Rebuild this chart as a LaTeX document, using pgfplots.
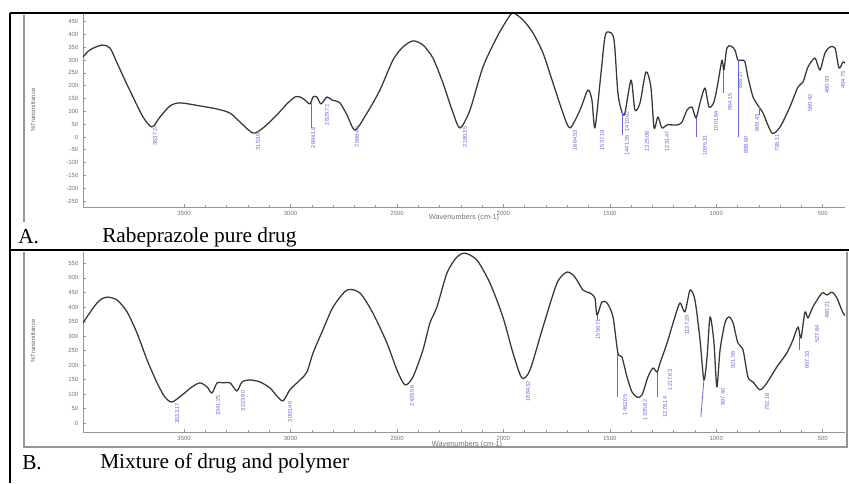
\documentclass[border=0pt]{standalone}
\usepackage{fontspec}
\setmainfont{Liberation Serif}
\newfontfamily\axfont{Liberation Sans}
\usepackage{pgfplots}
\pgfplotsset{compat=1.18}
\definecolor{spec}{RGB}{55,55,55}
\definecolor{peak}{RGB}{100,100,215}
\definecolor{frame}{RGB}{150,150,150}
\pgfplotsset{
  ftir/.style={
    scale only axis, width=571.5pt, anchor=south west,
    x dir=reverse, xmin=395, xmax=3975,
    axis x line*=bottom, axis y line*=left,
    axis line style={draw=frame, line width=0.6pt},
    xtick={500,1000,...,3500},
    minor x tick num=4,
    tick style={draw=frame, line width=0.4pt},
    major tick length=2.5pt, minor tick length=1.5pt,
    ticklabel style={font=\axfont\fontsize{4.5}{5}\selectfont, text=black!55},
    /pgf/number format/assume math mode=true,
    /pgf/number format/1000 sep={},
  },
}
\tikzset{
  pk/.style={rotate=90, font=\axfont\fontsize{4.2}{4.2}\selectfont, text=peak, inner sep=0pt},
  mk/.style={draw=peak, line width=0.6pt},
  curve/.style={spec, line width=0.95pt, line join=round, smooth, tension=0.45},
}
\begin{document}
\begin{tikzpicture}
\begin{scope}[x=0.75pt,y=-0.75pt]
  \useasboundingbox (0,0) rectangle (849,483);
  % table borders
  \draw[line width=1.5pt] (10,13) -- (849,13);
  \draw[line width=1.5pt] (10,250) -- (849,250);
  \draw[line width=1.2pt] (10,13) -- (10,483);
  % gray frames of the two spectra
  \draw[frame, line width=1pt] (24,15) -- (24,222);
  \draw[frame, line width=1pt] (24,252) -- (24,447) -- (847,447) -- (847,252);
  % axis titles
  \node[rotate=90, font=\axfont\fontsize{4.5}{5}\selectfont, text=black!60] at (33,110) {\%Transmittance};
  \node[rotate=90, font=\axfont\fontsize{4.5}{5}\selectfont, text=black!60] at (33,341) {\%Transmittance};
  \node[font=\axfont\fontsize{5.5}{6}\selectfont, text=black!55] at (464,218) {Wavenumbers (cm-1)};
  \node[font=\axfont\fontsize{5.5}{6}\selectfont, text=black!55] at (467,445) {Wavenumbers (cm-1)};
  % captions
  \node[anchor=west, font=\fontsize{16}{18}\selectfont, inner sep=0pt] at (18,237) {A.};
  \node[anchor=west, font=\fontsize{16}{18}\selectfont, inner sep=0pt] at (102,237) {Rabeprazole pure drug};
  \node[anchor=west, font=\fontsize{16}{18}\selectfont, inner sep=0pt] at (22,463) {B.};
  \node[anchor=west, font=\fontsize{16}{18}\selectfont, inner sep=0pt] at (100,463) {Mixture of drug and polymer};
\end{scope}

% ---------- A: Rabeprazole pure drug ----------
\begin{axis}[ftir, at={(62.25pt,-155.25pt)}, height=144.75pt,
  ymin=-273.6, ymax=480, ytick={-250,-200,...,450}]
\addplot[curve] coordinates {
(3975,312) (3942,340) (3886,359) (3848,347) (3815,289) (3778,222) (3740,156)
(3693,78) (3651,39) (3613,78) (3566,121) (3519,133) (3425,121) (3345,109)
(3284,93) (3237,58) (3176,15) (3129,35) (3064,86) (3017,129) (2979,156)
(2955,156) (2932,144) (2909,129) (2894,156) (2876,156) (2857,129) (2829,156)
(2805,144) (2768,133) (2735,86) (2697,27) (2641,93) (2580,183) (2519,300)
(2472,351) (2425,375) (2378,359) (2331,308) (2284,211) (2241,105) (2204,35)
(2157,105) (2096,273) (2030,390) (1983,457) (1955,484) (1908,457) (1861,406)
(1814,328) (1767,211) (1720,93) (1687,35) (1640,105) (1603,183) (1584,144)
(1570,35) (1546,211) (1523,390) (1504,410) (1480,379) (1462,172) (1443,97)
(1429,93) (1400,222) (1382,105) (1358,133) (1330,254) (1307,195) (1292,35)
(1274,78) (1255,35) (1231,47) (1184,47) (1161,58) (1137,105) (1114,117)
(1095,74) (1076,133) (1053,191) (1034,117) (1011,136) (992,211) (973,300)
(964,261) (950,347) (931,355) (912,339) (898,300) (879,300) (865,293)
(851,234) (827,156) (799,117) (780,93) (738,15) (700,39) (654,117)
(616,195) (592,215) (569,273) (536,308) (513,261) (489,328) (466,351)
(442,347) (423,269) (404,293) (386,281)
};
\draw[mk] (axis cs:2904,132) -- (axis cs:2904,35);
\draw[mk] (axis cs:1443,97) -- (axis cs:1443,7);
\draw[mk] (axis cs:1095,74) -- (axis cs:1095,0);
\draw[mk] (axis cs:964,261) -- (axis cs:964,171);
\draw[mk] (axis cs:898,300) -- (axis cs:898,0);
\draw[mk] (axis cs:799,117) -- (axis cs:799,86);
\node[pk] at (axis cs:3637,7) {3637.24};
\node[pk] at (axis cs:3153,-12) {3153.61};
\node[pk] at (axis cs:2894,-4) {2894.18};
\node[pk] at (axis cs:2829,86) {2829.72};
\node[pk] at (axis cs:2688,0) {2688.40};
\node[pk] at (axis cs:2180,0) {2180.35};
\node[pk] at (axis cs:1664,-12) {1664.53};
\node[pk] at (axis cs:1537,-12) {1537.19};
\node[pk] at (axis cs:1419,62) {1410.62};
\node[pk] at (axis cs:1419,-32) {1441.26};
\node[pk] at (axis cs:1325,-16) {1325.08};
\node[pk] at (axis cs:1231,-16) {1231.47};
\node[pk] at (axis cs:1053,-32) {1095.31};
\node[pk] at (axis cs:1001,62) {1001.84};
\node[pk] at (axis cs:935,136) {964.15};
\node[pk] at (axis cs:888,222) {888.27};
\node[pk] at (axis cs:860,-32) {898.60};
\node[pk] at (axis cs:809,54) {809.43};
\node[pk] at (axis cs:715,-24) {738.11};
\node[pk] at (axis cs:560,132) {560.42};
\node[pk] at (axis cs:480,203) {480.93};
\node[pk] at (axis cs:405,222) {404.75};
\end{axis}

% ---------- B: Mixture of drug and polymer ----------
\begin{axis}[ftir, at={(62.25pt,-324pt)}, height=135pt,
  ymin=-30, ymax=589, ytick={0,50,...,550}]
\addplot[curve] coordinates {
(3975,345) (3928,396) (3895,424) (3862,434) (3815,424) (3768,383) (3721,310)
(3674,218) (3627,139) (3590,90) (3557,73) (3510,97) (3463,125) (3425,139)
(3392,125) (3369,104) (3345,139) (3317,139) (3284,139) (3252,111) (3228,142)
(3191,149) (3143,142) (3096,121) (3064,94) (3035,77) (3003,115) (2955,149)
(2923,176) (2894,242) (2848,321) (2800,400) (2735,458) (2674,448) (2613,379)
(2547,276) (2500,183) (2462,132) (2425,159) (2378,252) (2345,345) (2312,400)
(2265,517) (2218,572) (2180,585) (2124,561) (2063,482) (2002,365) (1955,242)
(1913,156) (1875,183) (1814,331) (1748,482) (1701,520) (1664,503) (1626,458)
(1593,448) (1570,431) (1560,372) (1537,417) (1513,414) (1485,366) (1462,242)
(1443,228) (1419,159) (1396,108) (1372,90) (1349,97) (1321,159) (1297,190)
(1278,176) (1264,207) (1231,276) (1194,366) (1170,414) (1147,383) (1123,458)
(1100,424) (1076,286) (1058,149) (1043,228) (1029,366) (1011,280) (997,125)
(982,252) (959,345) (940,366) (921,345) (898,276) (874,252) (851,159)
(827,142) (794,115) (762,139) (715,194) (668,242) (640,286) (616,331)
(602,293) (583,383) (569,362) (546,400) (503,448) (480,441) (456,451)
(433,431) (404,379) (381,362)
};
\draw[mk] (axis cs:1462,242) -- (axis cs:1462,90);
\draw[mk] (axis cs:1278,176) -- (axis cs:1278,90);
\draw[mk] (axis cs:1058,149) -- (axis cs:1072,22);
\draw[mk] (axis cs:607,297) -- (axis cs:607,252);
\draw[mk] (axis cs:1560,372) -- (axis cs:1560,355);
\node[pk] at (axis cs:3533,35) {3533.17};
\node[pk] at (axis cs:3341,60) {3341.25};
\node[pk] at (axis cs:3223,77) {3223.90};
\node[pk] at (axis cs:3003,39) {3003.46};
\node[pk] at (axis cs:2429,94) {2429.58};
\node[pk] at (axis cs:1884,111) {1884.32};
\node[pk] at (axis cs:1556,324) {1556.71};
\node[pk] at (axis cs:1429,63) {1462.05};
\node[pk] at (axis cs:1335,46) {1335.82};
\node[pk] at (axis cs:1241,56) {1278.14};
\node[pk] at (axis cs:1217,149) {1217.63};
\node[pk] at (axis cs:1137,338) {1137.29};
\node[pk] at (axis cs:968,90) {997.40};
\node[pk] at (axis cs:921,218) {921.56};
\node[pk] at (axis cs:762,73) {762.18};
\node[pk] at (axis cs:574,218) {607.33};
\node[pk] at (axis cs:527,307) {527.84};
\node[pk] at (axis cs:480,390) {480.21};
\end{axis}
\end{tikzpicture}
\end{document}
